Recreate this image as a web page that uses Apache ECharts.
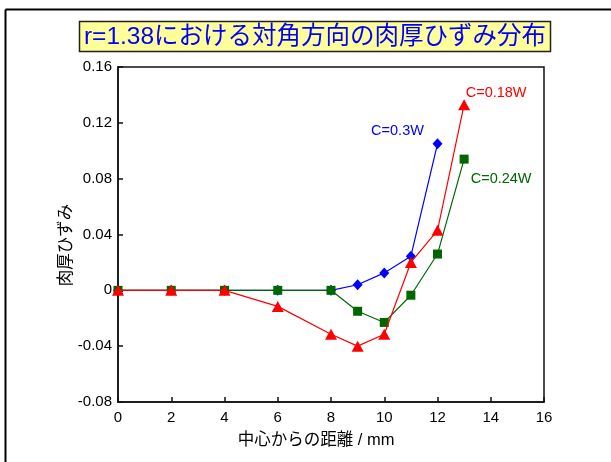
<!DOCTYPE html>
<html>
<head>
<meta charset="utf-8">
<script src="https://cdn.jsdelivr.net/npm/echarts@6/dist/echarts.min.js"></script>
<style>
  html, body { margin: 0; padding: 0; background: #fff; }
  #chart { width: 611px; height: 462px; }
</style>
</head>
<body>
<div id="chart"></div>
<script>
// Distance from the centre (mm)
const distance = [0, 2, 4, 6, 8, 9, 10, 11, 12, 13];

// Thickness strain along the diagonal for each clearance
const strainC030 = [0, 0, 0, 0, 0, 0.004, 0.0125, 0.0245, 0.105];
const strainC024 = [0, 0, 0, 0, 0, -0.015, -0.023, -0.0035, 0.026, 0.094];
const strainC018 = [0, 0, 0, -0.0115, -0.0315, -0.040, -0.0315, 0.020, 0.043, 0.133];

const seriesNames = ['C=0.3W', 'C=0.24W', 'C=0.18W'];

const xTickLabels = ['0', '2', '4', '6', '8', '10', '12', '14', '16'];
const yTickLabels = ['-0.08', '-0.04', '0', '0.04', '0.08', '0.12', '0.16'];

const titleText = 'r=1.38における対角方向の肉厚ひずみ分布';
const xName = '中心からの距離 / mm';
const yName = '肉厚ひずみ';

const FONT = "'Liberation Sans', Arial, 'Noto Sans CJK JP', sans-serif";

function pairs(values, endLabel) {
  return values.map((v, i) => {
    const item = { value: [distance[i], v] };
    if (i === values.length - 1) item.label = endLabel;
    return item;
  });
}

function endLabel(text, color, offset) {
  return {
    show: true,
    formatter: text,
    position: 'inside',
    align: 'center',
    verticalAlign: 'middle',
    offset: offset,
    color: color,
    fontFamily: FONT,
    fontSize: 14.5
  };
}

const chart = echarts.init(document.getElementById('chart'), null, { renderer: 'canvas' });

chart.setOption({
  backgroundColor: '#ffffff',
  animation: false,
  textStyle: { fontFamily: FONT },
  graphic: [
    // outer frame (left and top edges)
    { type: 'line', shape: { x1: 5.5, y1: 9.5, x2: 5.5, y2: 470 }, style: { stroke: '#000', lineWidth: 2 } },
    { type: 'line', shape: { x1: 5.5, y1: 9.5, x2: 620, y2: 9.5 }, style: { stroke: '#000', lineWidth: 2 } },
    // title box
    {
      type: 'rect',
      shape: { x: 79.5, y: 21.5, width: 471, height: 30 },
      style: { fill: '#ffff99', stroke: '#222', lineWidth: 1.5 }
    },
    {
      type: 'text',
      x: 315, y: 37,
      style: {
        text: titleText,
        fill: '#0000ff',
        fontFamily: FONT,
        fontSize: 24.5,
        align: 'center',
        verticalAlign: 'middle'
      }
    }
  ],
  grid: {
    left: 118, right: 67, top: 67, bottom: 60,
    show: true,
    borderColor: '#111',
    borderWidth: 1.5,
    backgroundColor: 'transparent'
  },
  xAxis: {
    type: 'value',
    min: 0, max: 16, interval: 2,
    name: xName,
    nameLocation: 'middle',
    nameGap: 30,
    nameMoveOverlap: false,
    nameTextStyle: { color: '#000', fontSize: 16.5, fontFamily: FONT, padding: [0, 30, 0, 0] },
    axisLine: { onZero: false, lineStyle: { color: '#111', width: 1.5 } },
    axisTick: { inside: true, length: 5, lineStyle: { color: '#111', width: 1.5 } },
    axisLabel: {
      color: '#000', fontSize: 15, margin: 8,
      formatter: (v) => xTickLabels[Math.round(v / 2)]
    },
    splitLine: { show: false }
  },
  yAxis: {
    type: 'value',
    min: -0.08, max: 0.16, interval: 0.04,
    name: yName,
    nameLocation: 'middle',
    nameGap: 43,
    nameMoveOverlap: false,
    nameTextStyle: { color: '#000', fontSize: 16.5, fontFamily: FONT, padding: [0, 21, 0, 0] },
    axisLine: { onZero: false, lineStyle: { color: '#111', width: 1.5 } },
    axisTick: { inside: true, length: 5, lineStyle: { color: '#111', width: 1.5 } },
    axisLabel: {
      color: '#000', fontSize: 15, margin: 6,
      formatter: (v) => yTickLabels[Math.round((v + 0.08) / 0.04)]
    },
    splitLine: { show: false }
  },
  series: [
    {
      name: seriesNames[0],
      type: 'line',
      data: pairs(strainC030, endLabel(seriesNames[0], '#0000ff', [-40, -13])),
      symbol: 'diamond',
      symbolSize: [10, 11],
      lineStyle: { color: '#0000ff', width: 1.2 },
      itemStyle: { color: '#0000ff' },
      z: 2
    },
    {
      name: seriesNames[1],
      type: 'line',
      data: pairs(strainC024, endLabel(seriesNames[1], '#006600', [37, 20])),
      symbol: 'rect',
      symbolSize: 9,
      lineStyle: { color: '#006600', width: 1.2 },
      itemStyle: { color: '#006600' },
      z: 3
    },
    {
      name: seriesNames[2],
      type: 'line',
      data: pairs(strainC018, endLabel(seriesNames[2], '#ff0000', [32, -12])),
      symbol: 'triangle',
      symbolSize: [12, 11],
      lineStyle: { color: '#ff0000', width: 1.2 },
      itemStyle: { color: '#ff0000' },
      z: 4
    }
  ]
});
</script>
</body>
</html>
